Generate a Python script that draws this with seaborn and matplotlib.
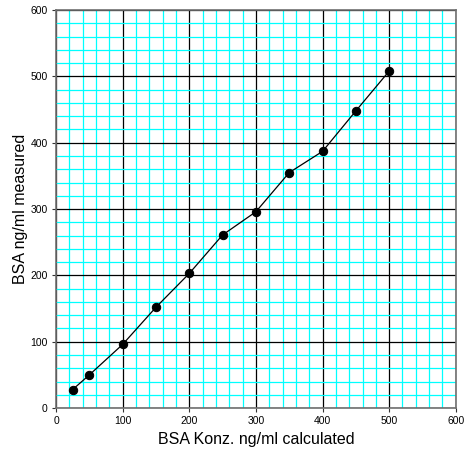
import matplotlib
matplotlib.use("Agg")
import matplotlib.pyplot as plt
import seaborn as sns
import pandas as pd
from matplotlib.ticker import MultipleLocator

# values
conc_calculated = [25, 50, 100, 150, 200, 250, 300, 350, 400, 450, 500]
conc_measured = [28, 50, 96, 152, 203, 261, 296, 355, 387, 448, 508]
tick_values = [0, 100, 200, 300, 400, 500, 600]

df = pd.DataFrame({"calc": conc_calculated, "meas": conc_measured})

sns.set_theme(style="white")
plt.rcParams["font.family"] = ["Liberation Sans", "DejaVu Sans"]
plt.rcParams["text.color"] = "black"
plt.rcParams["axes.labelcolor"] = "black"
plt.rcParams["xtick.color"] = "black"
plt.rcParams["ytick.color"] = "black"

fig = plt.figure(figsize=(4.67, 4.58), dpi=100)
ax = fig.add_axes([0.12, 0.109, 0.856, 0.869])

ax.set_xlim(0, 600)
ax.set_ylim(0, 600)
ax.set_xticks(tick_values)
ax.set_yticks(tick_values)
ax.xaxis.set_minor_locator(MultipleLocator(20))
ax.yaxis.set_minor_locator(MultipleLocator(20))

# graph-paper grid: cyan minor, black major
ax.grid(which="minor", color="#00ffff", linewidth=0.9)
ax.grid(which="major", color="black", linewidth=0.9)
ax.set_axisbelow(True)

sns.lineplot(data=df, x="calc", y="meas", ax=ax, color="black", linewidth=0.9,
             marker="o", markersize=6, markeredgecolor="black", zorder=5)

for s in ax.spines.values():
    s.set_color("#707070")
    s.set_linewidth(1.2)

ax.tick_params(which="major", direction="out", length=3, width=0.8, color="#333333",
               labelsize=7.5, pad=3, left=True, bottom=True)
ax.tick_params(which="minor", length=0)

ax.set_xlabel("BSA Konz. ng/ml calculated", fontsize=11.5, labelpad=4)
ax.set_ylabel("BSA ng/ml measured", fontsize=11.5, labelpad=2)

fig.savefig("out.png", dpi=100)
